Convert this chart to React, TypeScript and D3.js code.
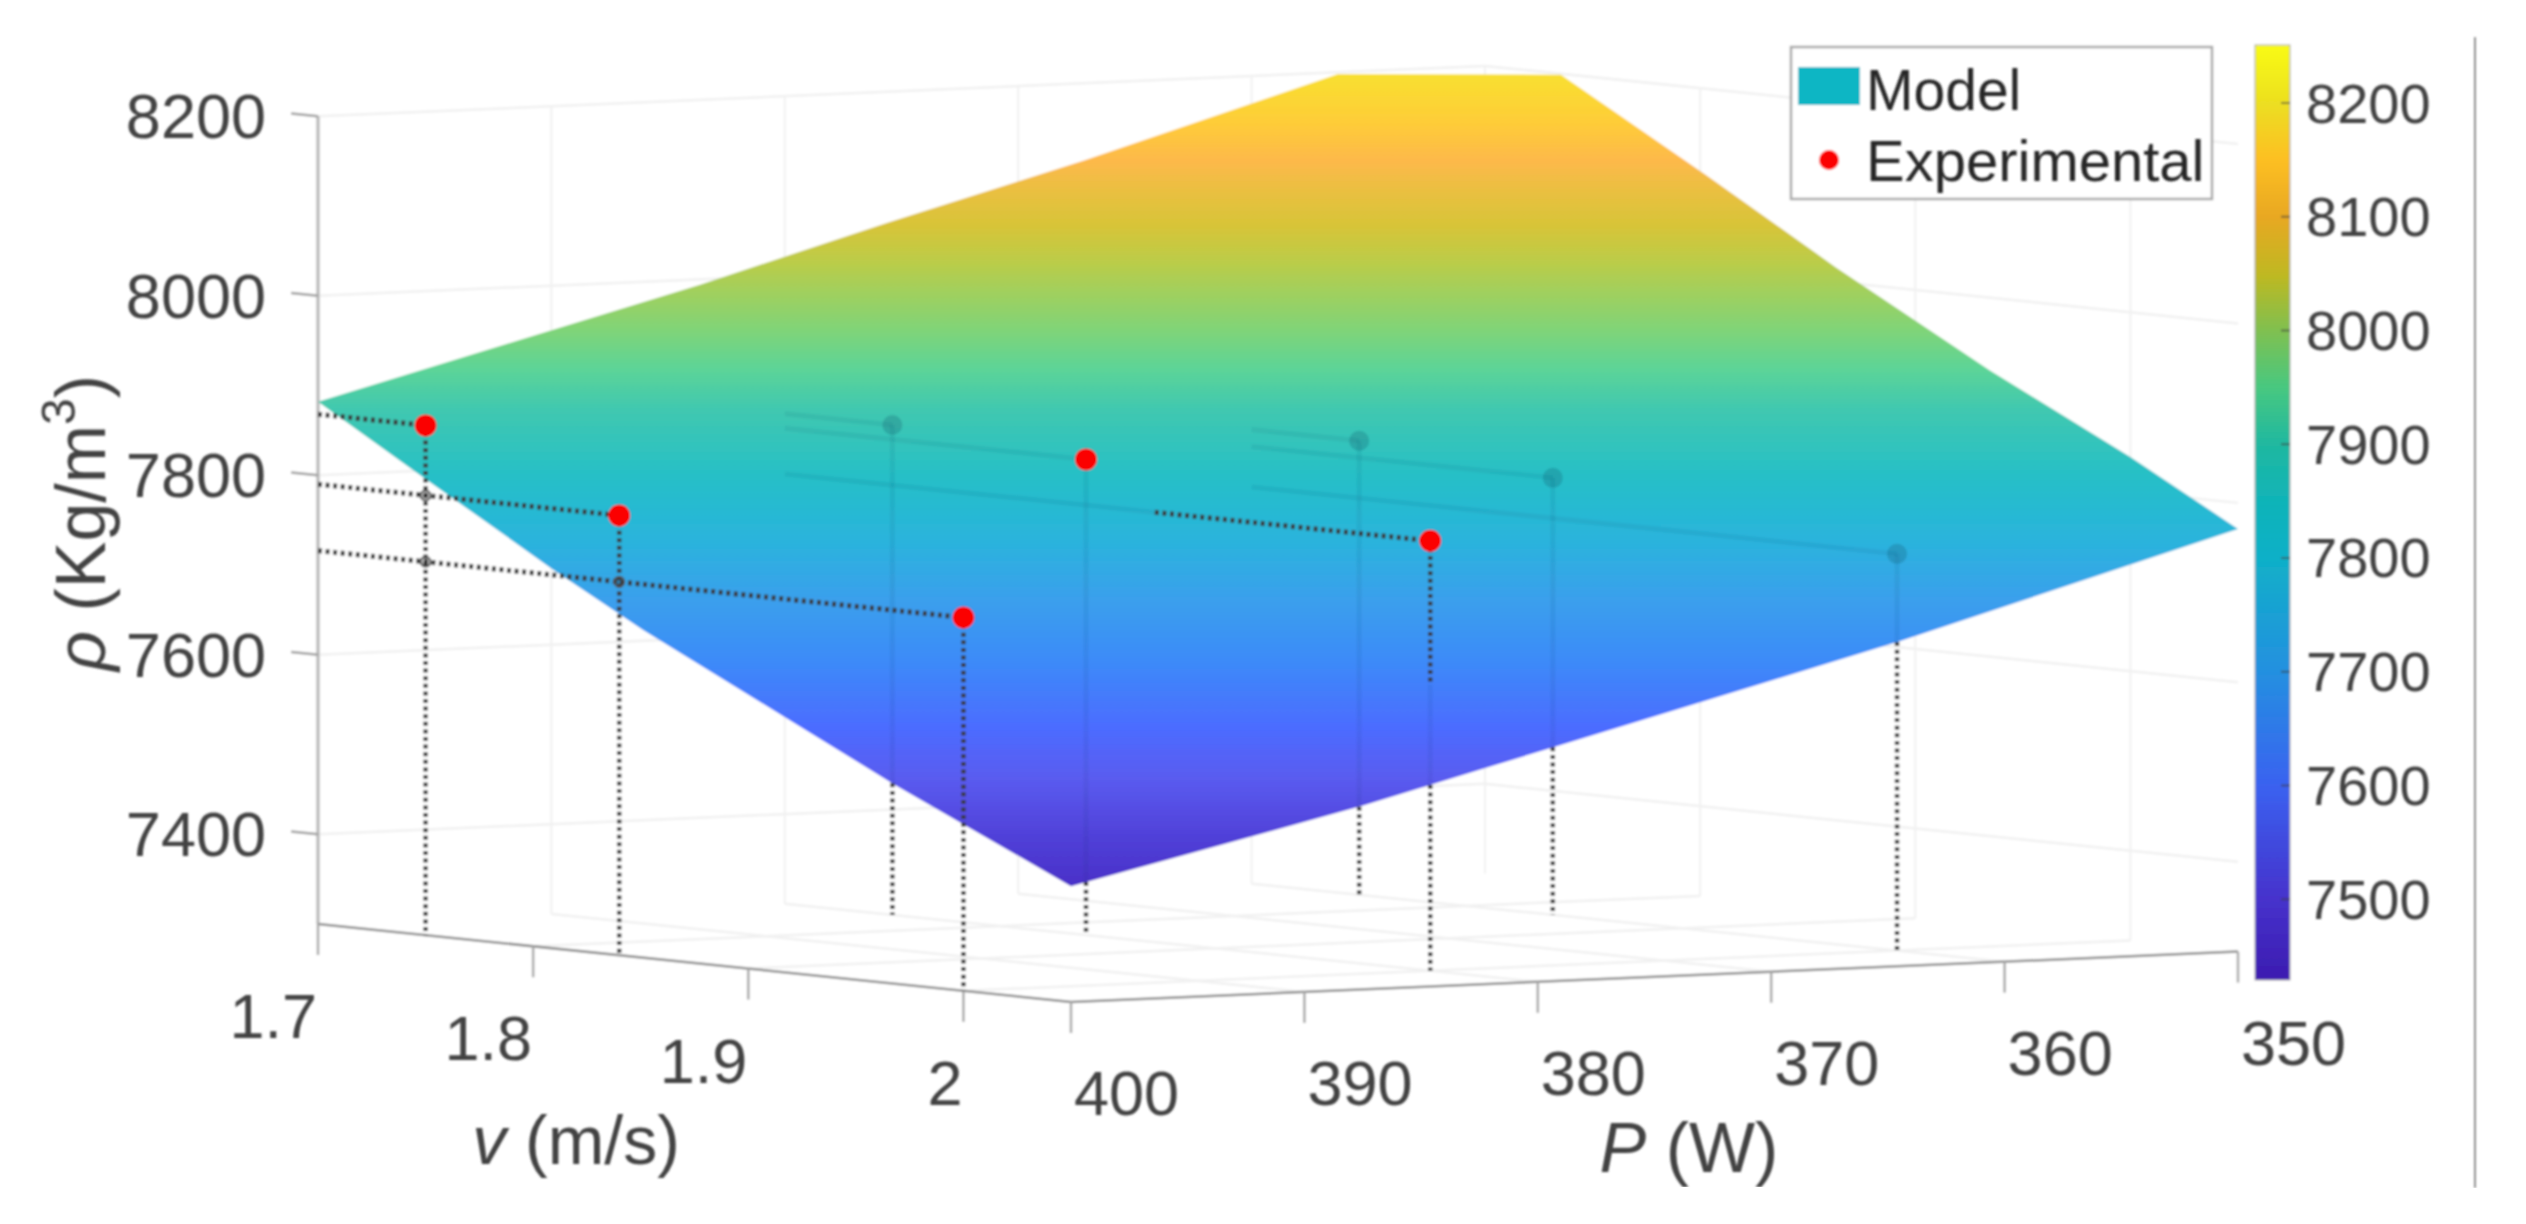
import React, { useRef, useEffect } from 'react';
import * as d3 from 'd3';

// axis ticks
const vTicks = [1.7, 1.8, 1.9, 2];
const vTickLabels = ['1.7', '1.8', '1.9', '2'];
const pTicks = [400, 390, 380, 370, 360, 350];
const rhoTicks = [7400, 7600, 7800, 8000, 8200];
const barTicks = [7500, 7600, 7700, 7800, 7900, 8000, 8100, 8200];

// surface boundary read along its edges (v, P, rho), cut at the z limit on top
const surfaceV = [1.7, 1.7488, 1.8093, 1.8511, 1.9287, 1.9678, 2.05, 2.05, 2.05, 2.05, 2.05, 1.9998, 1.9347, 1.8631, 1.8027, 1.7353, 1.7, 1.7, 1.7, 1.7];
const surfaceP = [400, 400, 400, 400, 400, 400, 400, 387.45, 379.3, 364.5, 350, 350, 350, 350, 350, 350, 356.3, 367.18, 375.6, 383.63];
const surfaceRho = [7882, 7810, 7722, 7665, 7570, 7522, 7429, 7505, 7561, 7662, 7771, 7839, 7919, 8016, 8104, 8199, 8198, 8114, 8054, 7994];
const lowerEdgeCount = 11;

// experimental points
const expV = [1.75, 1.84, 2, 1.75, 1.84, 2, 1.75, 1.84, 2];
const expP = [400, 400, 400, 380, 380, 380, 360, 360, 360];
const expRho = [7868, 7790, 7716, 7846, 7830, 7779, 7806, 7787, 7742];
const expVisible = [true, true, true, false, true, true, false, false, false];
// where the guide lines go in under the surface
const crossRho = [7300, 7300, 7300, 7846, 7819, 7619, 7806, 7787, 7742];
const crossV = [1.7, 1.7, 1.7, 1.75, 1.84, 1.872, 1.75, 1.84, 2];

// colorbar colormap
const barStopRho = [7429, 7500, 7600, 7700, 7800, 7850, 7900, 7950, 8000, 8050, 8100, 8150, 8200, 8251];
const barStopColor = ['#3c1cb0', '#4632cc', '#3a62f0', '#2490e0', '#10b0c8', '#10b4b8', '#20b8a0', '#48c880', '#80c050', '#c0b820', '#e8a820', '#fdbf20', '#ecdf20', '#f9fb15'];

const surfStopRho = [7429, 7478, 7539, 7589, 7660, 7720, 7780, 7841, 7911, 7952, 7992, 8027, 8062, 8098, 8130, 8163, 8203, 8251];
const surfStopColor = ['#4a30c8', '#5040d8', '#5a5cf0', '#4c6cff', '#3c8cf8', '#3aa0ec', '#2ab4dc', '#25bfc8', '#40c8b0', '#5cd498', '#80d478', '#9ed060', '#bccc48', '#d8c438', '#e8c040', '#fdb94a', '#fecd38', '#f8e030'];

const W = 2526;
const H = 1224;
const originX = 318;
const originY = 924;
const rhoMin = 7300;
const rhoMax = 8200;
const barMin = 7429;
const barMax = 8251;

const vx = d3.scaleLinear().domain([1.7, 2.05]).range([0, 753]);
const vy = d3.scaleLinear().domain([1.7, 2.05]).range([0, 78]);
const px = d3.scaleLinear().domain([400, 350]).range([0, 1167]);
const py = d3.scaleLinear().domain([400, 350]).range([0, -50.4]);
const rz = d3.scaleLinear().domain([rhoMin, rhoMax]).range([0, -807.7]);

const project = (v: number, p: number, r: number): [number, number] => [
  originX + vx(v) + px(p),
  originY + vy(v) + py(p) + rz(r),
];

const barY = d3.scaleLinear().domain([barMin, barMax]).range([980, 45]);

const App = () => {
  const svgRef = useRef<SVGSVGElement>(null);

  useEffect(() => {
    const svg = d3.select(svgRef.current);
    svg.selectAll('*').remove();

    const defs = svg.append('defs');
    defs.append('filter').attr('id', 'soft')
      .attr('x', 0).attr('y', 0).attr('width', 1).attr('height', 1)
      .append('feGaussianBlur').attr('stdDeviation', 0.9);
    defs.append('clipPath').attr('id', 'crop')
      .append('rect').attr('x', 0).attr('y', 0).attr('width', W).attr('height', 1188);

    const root = svg.append('g').attr('clip-path', 'url(#crop)');
    const g = root.append('g').attr('filter', 'url(#soft)');
    g.append('rect').attr('width', W).attr('height', H).attr('fill', 'white');

    const seg = (a: [number, number], b: [number, number], color: string, width: number, dash?: string) => {
      const l = g.append('line')
        .attr('x1', a[0]).attr('y1', a[1]).attr('x2', b[0]).attr('y2', b[1])
        .attr('stroke', color).attr('stroke-width', width);
      if (dash) l.attr('stroke-dasharray', dash);
    };

    // back walls and floor grid
    const gridColor = '#f1f1f1';
    rhoTicks.forEach(r => {
      seg(project(1.7, 400, r), project(1.7, 350, r), gridColor, 2.5);
      seg(project(1.7, 350, r), project(2.05, 350, r), gridColor, 2.5);
    });
    pTicks.slice(1, 5).forEach(p => {
      seg(project(1.7, p, rhoMin), project(1.7, p, rhoMax), gridColor, 2);
      seg(project(1.7, p, rhoMin), project(2.05, p, rhoMin), gridColor, 2.5);
    });
    vTicks.slice(1).forEach(v => {
      seg(project(v, 350, rhoMin), project(v, 350, rhoMax), gridColor, 2);
      seg(project(v, 400, rhoMin), project(v, 350, rhoMin), gridColor, 2.5);
    });
    seg(project(1.7, 350, rhoMin), project(1.7, 350, rhoMax), gridColor, 2);

    // axis lines and ticks
    const axisColor = '#8f8f8f';
    seg(project(1.7, 400, rhoMin), project(1.7, 400, rhoMax), '#bdbdbd', 3.5);
    seg(project(1.7, 400, rhoMin), project(2.05, 400, rhoMin), axisColor, 2.5);
    seg(project(2.05, 400, rhoMin), project(2.05, 350, rhoMin), axisColor, 2.5);

    const tickDrop = 31;
    const labels = root.append('g').attr('filter', 'url(#soft)')
      .attr('font-family', '"Liberation Sans", Arial, sans-serif').attr('fill', '#424242');

    rhoTicks.forEach(r => {
      const a = project(1.7, 400, r);
      seg(a, project(1.7 - 0.0125, 400, r), '#a0a0a0', 2.5);
      labels.append('text').attr('x', 266).attr('y', a[1]).attr('text-anchor', 'end')
        .attr('dominant-baseline', 'central').attr('font-size', 63).text(r);
    });

    vTicks.forEach((v, i) => {
      const a = project(v, 400, rhoMin);
      seg(a, [a[0], a[1] + tickDrop], '#a8a8a8', 2.5);
      labels.append('text').attr('x', a[0] - 1).attr('y', a[1] + 92).attr('text-anchor', 'end')
        .attr('dominant-baseline', 'central').attr('font-size', 63).text(vTickLabels[i]);
    });

    pTicks.forEach(p => {
      const a = project(2.05, p, rhoMin);
      seg(a, [a[0], a[1] + tickDrop], '#a8a8a8', 2.5);
      labels.append('text').attr('x', a[0] + 3).attr('y', a[1] + 91).attr('text-anchor', 'start')
        .attr('dominant-baseline', 'central').attr('font-size', 63).text(p);
    });

    // surface
    const outline = surfaceV.map((v, i) => project(v, surfaceP[i], surfaceRho[i]));
    const lowerEdge = outline.slice(0, lowerEdgeCount);
    const topY = d3.min(outline, d => d[1]) as number;
    const botY = d3.max(outline, d => d[1]) as number;
    const colorAt = d3.scaleLinear().domain([barMin, barMax]).range([0, 1]);
    const surfGrad = defs.append('linearGradient').attr('id', 'surfGrad')
      .attr('gradientUnits', 'userSpaceOnUse')
      .attr('x1', 0).attr('x2', 0)
      .attr('y1', botY).attr('y2', topY);
    surfStopRho.forEach((r, i) => {
      surfGrad.append('stop').attr('offset', colorAt(r)).attr('stop-color', surfStopColor[i]);
    });
    g.append('path')
      .attr('d', d3.line()(outline) + 'Z')
      .attr('fill', 'url(#surfGrad)');

    // lower edge of the surface on screen, for the lines coming out from under it
    const edgeY = d3.scaleLinear()
      .domain(lowerEdge.map(d => d[0]))
      .range(lowerEdge.map(d => d[1]));

    // guide lines
    const dark = '#3a3a3a';
    const dots = '4 3.6';
    const faint = 'rgba(0,40,80,0.07)';
    expV.forEach((v, i) => {
      const p = expP[i];
      const r = expRho[i];
      const pt = project(v, p, r);
      const wall = project(1.7, p, r);
      const floor = project(v, p, rhoMin);
      if (crossV[i] <= 1.7) {
        seg(wall, pt, dark, 5, dots);
      } else {
        const cv = project(crossV[i], p, r);
        seg(wall, cv, faint, 5);
        if (crossV[i] < v) seg(cv, pt, dark, 5, dots);
      }
      if (crossRho[i] <= rhoMin) {
        seg(pt, floor, dark, 4.5, dots);
      } else {
        const cr = project(v, p, crossRho[i]);
        if (crossRho[i] < r) seg(pt, cr, dark, 4.5, dots);
        const exit: [number, number] = [pt[0], edgeY(pt[0])];
        seg(cr, exit, faint, 5);
        seg(exit, floor, dark, 4.5, dots);
      }
    });

    // small rings where the guide lines of the front row cross
    expP.forEach((p, i) => {
      expP.forEach((q, j) => {
        if (p === 400 && q === 400 && expV[i] < expV[j]) {
          const c = project(expV[i], 400, expRho[j]);
          g.append('circle').attr('cx', c[0]).attr('cy', c[1]).attr('r', 5)
            .attr('fill', 'rgba(40,40,40,0.3)').attr('stroke', '#555').attr('stroke-width', 2);
        }
      });
    });

    // points
    g.selectAll('circle.point')
      .data(expV)
      .enter()
      .append('circle')
      .attr('class', 'point')
      .attr('cx', (d, i) => project(d, expP[i], expRho[i])[0])
      .attr('cy', (d, i) => project(d, expP[i], expRho[i])[1])
      .attr('r', (d, i) => (expVisible[i] ? 11 : 10))
      .attr('fill', (d, i) => (expVisible[i] ? '#fb0606' : 'rgba(20,80,100,0.24)'));

    // colorbar
    const barGrad = defs.append('linearGradient').attr('id', 'barGrad')
      .attr('x1', 0).attr('x2', 0).attr('y1', 1).attr('y2', 0);
    barStopRho.forEach((r, i) => {
      barGrad.append('stop').attr('offset', colorAt(r)).attr('stop-color', barStopColor[i]);
    });
    g.append('rect')
      .attr('x', 2255).attr('y', barY(barMax))
      .attr('width', 35).attr('height', barY(barMin) - barY(barMax))
      .attr('fill', 'url(#barGrad)')
      .attr('stroke', '#a8a8a8').attr('stroke-width', 1);
    barTicks.forEach(t => {
      seg([2281, barY(t)], [2290, barY(t)], 'rgba(60,60,60,0.6)', 2);
      labels.append('text').attr('x', 2306).attr('y', barY(t))
        .attr('dominant-baseline', 'central').attr('font-size', 56).text(t);
    });

    // legend
    g.append('rect')
      .attr('x', 1791).attr('y', 47).attr('width', 421).attr('height', 152)
      .attr('fill', 'white').attr('stroke', '#a8a8a8').attr('stroke-width', 2.5);
    g.append('rect')
      .attr('x', 1798).attr('y', 67).attr('width', 62).attr('height', 38)
      .attr('fill', '#10b6c4');
    g.append('circle').attr('cx', 1829).attr('cy', 160).attr('r', 10).attr('fill', '#fb0606');
    labels.append('text').attr('x', 1866).attr('y', 110).attr('font-size', 57)
      .attr('fill', '#262626').text('Model');
    labels.append('text').attr('x', 1866).attr('y', 181).attr('font-size', 58)
      .attr('fill', '#262626').text('Experimental');

    // axis titles
    const rhoLabel = labels.append('text')
      .attr('transform', 'translate(105,523) rotate(-90)')
      .attr('text-anchor', 'middle').attr('font-size', 70);
    rhoLabel.append('tspan').attr('font-style', 'italic').text('ρ');
    rhoLabel.append('tspan').text(' (Kg/m');
    rhoLabel.append('tspan').attr('font-size', 48).attr('dy', -30).text('3');
    rhoLabel.append('tspan').attr('dy', 30).text(')');

    const vLabel = labels.append('text').attr('x', 576).attr('y', 1164)
      .attr('text-anchor', 'middle').attr('font-size', 68);
    vLabel.append('tspan').attr('font-style', 'italic').text('v');
    vLabel.append('tspan').text(' (m/s)');

    const pLabel = labels.append('text').attr('x', 1689).attr('y', 1172)
      .attr('text-anchor', 'middle').attr('font-size', 70);
    pLabel.append('tspan').attr('font-style', 'italic').text('P');
    pLabel.append('tspan').text(' (W)');

    // rule at the right edge of the crop
    g.append('line')
      .attr('x1', 2475).attr('x2', 2475).attr('y1', 37).attr('y2', 1188)
      .attr('stroke', '#6e6e6e').attr('stroke-width', 2);
  }, []);

  return (
    <svg
      ref={svgRef}
      width={W}
      height={H}
      style={{ position: 'absolute', left: 0, top: 0, display: 'block', background: 'white' }}
    />
  );
};

export default App;
